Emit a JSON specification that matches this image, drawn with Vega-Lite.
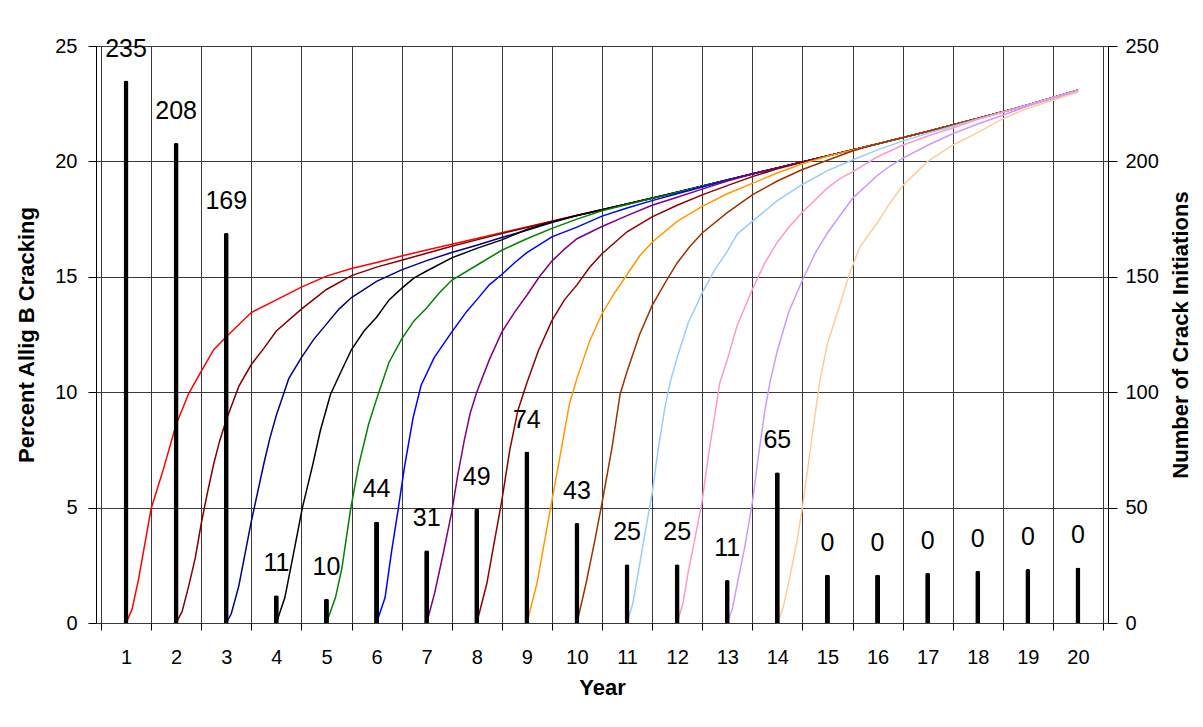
{
  "$schema": "https://vega.github.io/schema/vega-lite/v6.json",
  "width": 1012,
  "height": 577,
  "autosize": {"type": "none"},
  "padding": {"left": 96, "top": 46, "right": 95, "bottom": 104},
  "background": "white",
  "config": {
    "view": {"stroke": "black", "strokeWidth": 1},
    "font": "Liberation Sans",
    "axis": {"labelFont": "Liberation Sans", "titleFont": "Liberation Sans", "labelColor": "black", "titleColor": "black", "tickColor": "black", "domainColor": "black", "gridColor": "#3a3a3a", "gridOpacity": 1}
  },
  "datasets": {
    "curves": [
      {"curve":1,"year":1,"pct":0},{"curve":1,"year":1.12,"pct":0.6},{"curve":1,"year":1.25,"pct":1.9},{"curve":1,"year":1.5,"pct":4.95},{"curve":1,"year":1.75,"pct":6.7},{"curve":1,"year":2,"pct":8.6},{"curve":1,"year":2.25,"pct":9.94},{"curve":1,"year":2.5,"pct":10.9},{"curve":1,"year":2.75,"pct":11.84},{"curve":1,"year":3,"pct":12.4},{"curve":1,"year":3.5,"pct":13.45},{"curve":1,"year":4,"pct":14.0},{"curve":1,"year":4.5,"pct":14.55},{"curve":1,"year":5,"pct":15.03},{"curve":1,"year":5.5,"pct":15.36},{"curve":1,"year":6,"pct":15.62},{"curve":1,"year":6.5,"pct":15.9},{"curve":1,"year":7,"pct":16.16},{"curve":1,"year":8,"pct":16.66},{"curve":1,"year":9,"pct":17.16},{"curve":1,"year":10,"pct":17.67},{"curve":1,"year":11,"pct":18.15},{"curve":1,"year":12,"pct":18.66},{"curve":1,"year":13,"pct":19.2},{"curve":1,"year":14,"pct":19.72},{"curve":1,"year":15,"pct":20.24},{"curve":1,"year":16,"pct":20.76},{"curve":1,"year":17,"pct":21.3},{"curve":1,"year":18,"pct":21.86},{"curve":1,"year":19,"pct":22.44},{"curve":1,"year":20,"pct":23.08},
      {"curve":2,"year":2,"pct":0},{"curve":2,"year":2.12,"pct":0.5},{"curve":2,"year":2.25,"pct":1.6},{"curve":2,"year":2.38,"pct":2.8},{"curve":2,"year":2.5,"pct":4.3},{"curve":2,"year":2.62,"pct":5.6},{"curve":2,"year":2.75,"pct":6.9},{"curve":2,"year":2.87,"pct":7.9},{"curve":2,"year":3,"pct":8.8},{"curve":2,"year":3.25,"pct":10.25},{"curve":2,"year":3.5,"pct":11.2},{"curve":2,"year":3.75,"pct":11.9},{"curve":2,"year":4,"pct":12.65},{"curve":2,"year":4.5,"pct":13.6},{"curve":2,"year":5,"pct":14.45},{"curve":2,"year":5.5,"pct":15.05},{"curve":2,"year":6,"pct":15.42},{"curve":2,"year":6.5,"pct":15.72},{"curve":2,"year":7,"pct":16.02},{"curve":2,"year":7.5,"pct":16.32},{"curve":2,"year":8,"pct":16.6},{"curve":2,"year":9,"pct":17.14},{"curve":2,"year":10,"pct":17.66},{"curve":2,"year":11,"pct":18.15},{"curve":2,"year":12,"pct":18.66},{"curve":2,"year":13,"pct":19.2},{"curve":2,"year":14,"pct":19.72},{"curve":2,"year":15,"pct":20.24},{"curve":2,"year":16,"pct":20.76},{"curve":2,"year":17,"pct":21.3},{"curve":2,"year":18,"pct":21.86},{"curve":2,"year":19,"pct":22.44},{"curve":2,"year":20,"pct":23.08},
      {"curve":3,"year":3,"pct":0},{"curve":3,"year":3.1,"pct":0.4},{"curve":3,"year":3.25,"pct":1.6},{"curve":3,"year":3.5,"pct":4.4},{"curve":3,"year":3.75,"pct":6.9},{"curve":3,"year":3.87,"pct":8.0},{"curve":3,"year":4,"pct":9.0},{"curve":3,"year":4.25,"pct":10.6},{"curve":3,"year":4.5,"pct":11.5},{"curve":3,"year":4.75,"pct":12.3},{"curve":3,"year":5,"pct":12.95},{"curve":3,"year":5.25,"pct":13.6},{"curve":3,"year":5.5,"pct":14.1},{"curve":3,"year":6,"pct":14.8},{"curve":3,"year":6.5,"pct":15.3},{"curve":3,"year":7,"pct":15.7},{"curve":3,"year":7.5,"pct":16.05},{"curve":3,"year":8,"pct":16.37},{"curve":3,"year":8.5,"pct":16.7},{"curve":3,"year":9,"pct":17.02},{"curve":3,"year":9.5,"pct":17.35},{"curve":3,"year":10,"pct":17.65},{"curve":3,"year":11,"pct":18.15},{"curve":3,"year":12,"pct":18.66},{"curve":3,"year":13,"pct":19.2},{"curve":3,"year":14,"pct":19.72},{"curve":3,"year":15,"pct":20.24},{"curve":3,"year":16,"pct":20.76},{"curve":3,"year":17,"pct":21.3},{"curve":3,"year":18,"pct":21.86},{"curve":3,"year":19,"pct":22.44},{"curve":3,"year":20,"pct":23.08},
      {"curve":4,"year":4,"pct":0},{"curve":4,"year":4.17,"pct":1.1},{"curve":4,"year":4.36,"pct":3.2},{"curve":4,"year":4.52,"pct":5.0},{"curve":4,"year":4.72,"pct":6.8},{"curve":4,"year":4.88,"pct":8.35},{"curve":4,"year":5.08,"pct":9.9},{"curve":4,"year":5.25,"pct":10.7},{"curve":4,"year":5.5,"pct":11.85},{"curve":4,"year":5.75,"pct":12.65},{"curve":4,"year":6,"pct":13.25},{"curve":4,"year":6.25,"pct":14.0},{"curve":4,"year":6.5,"pct":14.5},{"curve":4,"year":6.75,"pct":14.95},{"curve":4,"year":7,"pct":15.25},{"curve":4,"year":7.5,"pct":15.82},{"curve":4,"year":8,"pct":16.23},{"curve":4,"year":8.5,"pct":16.6},{"curve":4,"year":9,"pct":17.05},{"curve":4,"year":9.5,"pct":17.38},{"curve":4,"year":10,"pct":17.66},{"curve":4,"year":11,"pct":18.15},{"curve":4,"year":12,"pct":18.66},{"curve":4,"year":13,"pct":19.2},{"curve":4,"year":14,"pct":19.72},{"curve":4,"year":15,"pct":20.24},{"curve":4,"year":16,"pct":20.76},{"curve":4,"year":17,"pct":21.3},{"curve":4,"year":18,"pct":21.86},{"curve":4,"year":19,"pct":22.44},{"curve":4,"year":20,"pct":23.08},
      {"curve":5,"year":5,"pct":0},{"curve":5,"year":5.18,"pct":1.1},{"curve":5,"year":5.31,"pct":2.4},{"curve":5,"year":5.48,"pct":4.9},{"curve":5,"year":5.64,"pct":6.8},{"curve":5,"year":5.84,"pct":8.6},{"curve":5,"year":6,"pct":9.7},{"curve":5,"year":6.25,"pct":11.3},{"curve":5,"year":6.5,"pct":12.3},{"curve":5,"year":6.75,"pct":13.1},{"curve":5,"year":7,"pct":13.65},{"curve":5,"year":7.25,"pct":14.3},{"curve":5,"year":7.5,"pct":14.85},{"curve":5,"year":8,"pct":15.5},{"curve":5,"year":8.5,"pct":16.15},{"curve":5,"year":9,"pct":16.65},{"curve":5,"year":9.5,"pct":17.1},{"curve":5,"year":10,"pct":17.5},{"curve":5,"year":10.5,"pct":17.86},{"curve":5,"year":11,"pct":18.13},{"curve":5,"year":12,"pct":18.66},{"curve":5,"year":13,"pct":19.2},{"curve":5,"year":14,"pct":19.72},{"curve":5,"year":15,"pct":20.24},{"curve":5,"year":16,"pct":20.76},{"curve":5,"year":17,"pct":21.3},{"curve":5,"year":18,"pct":21.86},{"curve":5,"year":19,"pct":22.44},{"curve":5,"year":20,"pct":23.08},
      {"curve":6,"year":6,"pct":0},{"curve":6,"year":6.17,"pct":1.1},{"curve":6,"year":6.3,"pct":3.1},{"curve":6,"year":6.43,"pct":4.9},{"curve":6,"year":6.56,"pct":6.8},{"curve":6,"year":6.73,"pct":8.9},{"curve":6,"year":6.89,"pct":10.3},{"curve":6,"year":7.15,"pct":11.5},{"curve":6,"year":7.5,"pct":12.6},{"curve":6,"year":7.8,"pct":13.5},{"curve":6,"year":8,"pct":14.0},{"curve":6,"year":8.25,"pct":14.65},{"curve":6,"year":8.5,"pct":15.1},{"curve":6,"year":8.75,"pct":15.6},{"curve":6,"year":9,"pct":16.05},{"curve":6,"year":9.5,"pct":16.73},{"curve":6,"year":10,"pct":17.15},{"curve":6,"year":10.5,"pct":17.63},{"curve":6,"year":11,"pct":17.98},{"curve":6,"year":11.5,"pct":18.3},{"curve":6,"year":12,"pct":18.6},{"curve":6,"year":13,"pct":19.18},{"curve":6,"year":14,"pct":19.72},{"curve":6,"year":15,"pct":20.24},{"curve":6,"year":16,"pct":20.76},{"curve":6,"year":17,"pct":21.3},{"curve":6,"year":18,"pct":21.86},{"curve":6,"year":19,"pct":22.44},{"curve":6,"year":20,"pct":23.08},
      {"curve":7,"year":7,"pct":0},{"curve":7,"year":7.16,"pct":1.3},{"curve":7,"year":7.33,"pct":3.0},{"curve":7,"year":7.5,"pct":4.8},{"curve":7,"year":7.62,"pct":6.4},{"curve":7,"year":7.75,"pct":7.9},{"curve":7,"year":7.87,"pct":9.1},{"curve":7,"year":8,"pct":10.0},{"curve":7,"year":8.25,"pct":11.4},{"curve":7,"year":8.5,"pct":12.6},{"curve":7,"year":8.75,"pct":13.45},{"curve":7,"year":9,"pct":14.2},{"curve":7,"year":9.25,"pct":15.0},{"curve":7,"year":9.5,"pct":15.68},{"curve":7,"year":9.75,"pct":16.2},{"curve":7,"year":10,"pct":16.65},{"curve":7,"year":10.5,"pct":17.18},{"curve":7,"year":11,"pct":17.65},{"curve":7,"year":11.5,"pct":18.1},{"curve":7,"year":12,"pct":18.45},{"curve":7,"year":12.5,"pct":18.8},{"curve":7,"year":13,"pct":19.15},{"curve":7,"year":13.5,"pct":19.45},{"curve":7,"year":14,"pct":19.72},{"curve":7,"year":15,"pct":20.24},{"curve":7,"year":16,"pct":20.76},{"curve":7,"year":17,"pct":21.3},{"curve":7,"year":18,"pct":21.86},{"curve":7,"year":19,"pct":22.44},{"curve":7,"year":20,"pct":23.08},
      {"curve":8,"year":8,"pct":0},{"curve":8,"year":8.2,"pct":1.7},{"curve":8,"year":8.35,"pct":3.5},{"curve":8,"year":8.5,"pct":5.3},{"curve":8,"year":8.66,"pct":7.5},{"curve":8,"year":8.82,"pct":9.2},{"curve":8,"year":9,"pct":10.4},{"curve":8,"year":9.23,"pct":11.8},{"curve":8,"year":9.5,"pct":13.1},{"curve":8,"year":9.75,"pct":14.0},{"curve":8,"year":10,"pct":14.65},{"curve":8,"year":10.25,"pct":15.4},{"curve":8,"year":10.5,"pct":16.0},{"curve":8,"year":11,"pct":16.95},{"curve":8,"year":11.5,"pct":17.6},{"curve":8,"year":12,"pct":18.1},{"curve":8,"year":12.5,"pct":18.55},{"curve":8,"year":13,"pct":18.95},{"curve":8,"year":13.5,"pct":19.34},{"curve":8,"year":14,"pct":19.68},{"curve":8,"year":15,"pct":20.24},{"curve":8,"year":16,"pct":20.76},{"curve":8,"year":17,"pct":21.3},{"curve":8,"year":18,"pct":21.86},{"curve":8,"year":19,"pct":22.44},{"curve":8,"year":20,"pct":23.08},
      {"curve":9,"year":9,"pct":0},{"curve":9,"year":9.2,"pct":1.7},{"curve":9,"year":9.35,"pct":3.5},{"curve":9,"year":9.5,"pct":5.3},{"curve":9,"year":9.66,"pct":7.2},{"curve":9,"year":9.85,"pct":9.5},{"curve":9,"year":10,"pct":10.6},{"curve":9,"year":10.25,"pct":12.2},{"curve":9,"year":10.5,"pct":13.4},{"curve":9,"year":10.75,"pct":14.3},{"curve":9,"year":11,"pct":15.1},{"curve":9,"year":11.25,"pct":15.9},{"curve":9,"year":11.5,"pct":16.5},{"curve":9,"year":12,"pct":17.4},{"curve":9,"year":12.5,"pct":18.05},{"curve":9,"year":13,"pct":18.6},{"curve":9,"year":13.5,"pct":19.05},{"curve":9,"year":14,"pct":19.5},{"curve":9,"year":14.5,"pct":19.9},{"curve":9,"year":15,"pct":20.22},{"curve":9,"year":16,"pct":20.76},{"curve":9,"year":17,"pct":21.3},{"curve":9,"year":18,"pct":21.86},{"curve":9,"year":19,"pct":22.44},{"curve":9,"year":20,"pct":23.08},
      {"curve":10,"year":10,"pct":0},{"curve":10,"year":10.18,"pct":1.7},{"curve":10,"year":10.35,"pct":3.5},{"curve":10,"year":10.5,"pct":5.2},{"curve":10,"year":10.7,"pct":7.6},{"curve":10,"year":10.86,"pct":9.9},{"curve":10,"year":11,"pct":10.9},{"curve":10,"year":11.25,"pct":12.5},{"curve":10,"year":11.5,"pct":13.75},{"curve":10,"year":11.75,"pct":14.7},{"curve":10,"year":12,"pct":15.6},{"curve":10,"year":12.25,"pct":16.3},{"curve":10,"year":12.5,"pct":16.9},{"curve":10,"year":13,"pct":17.78},{"curve":10,"year":13.5,"pct":18.55},{"curve":10,"year":14,"pct":19.15},{"curve":10,"year":14.5,"pct":19.65},{"curve":10,"year":15,"pct":20.05},{"curve":10,"year":15.5,"pct":20.45},{"curve":10,"year":16,"pct":20.76},{"curve":10,"year":17,"pct":21.3},{"curve":10,"year":18,"pct":21.86},{"curve":10,"year":19,"pct":22.44},{"curve":10,"year":20,"pct":23.08},
      {"curve":11,"year":11,"pct":0},{"curve":11,"year":11.12,"pct":0.9},{"curve":11,"year":11.24,"pct":2.4},{"curve":11,"year":11.35,"pct":3.8},{"curve":11,"year":11.5,"pct":5.6},{"curve":11,"year":11.62,"pct":7.5},{"curve":11,"year":11.76,"pct":9.4},{"curve":11,"year":11.87,"pct":10.5},{"curve":11,"year":12,"pct":11.5},{"curve":11,"year":12.22,"pct":13.0},{"curve":11,"year":12.5,"pct":14.3},{"curve":11,"year":12.75,"pct":15.3},{"curve":11,"year":13,"pct":16.1},{"curve":11,"year":13.2,"pct":16.85},{"curve":11,"year":13.5,"pct":17.4},{"curve":11,"year":14,"pct":18.3},{"curve":11,"year":14.5,"pct":19.0},{"curve":11,"year":15,"pct":19.6},{"curve":11,"year":15.5,"pct":20.06},{"curve":11,"year":16,"pct":20.5},{"curve":11,"year":16.5,"pct":20.88},{"curve":11,"year":17,"pct":21.22},{"curve":11,"year":17.5,"pct":21.52},{"curve":11,"year":18,"pct":21.84},{"curve":11,"year":19,"pct":22.44},{"curve":11,"year":20,"pct":23.08},
      {"curve":12,"year":12,"pct":0},{"curve":12,"year":12.12,"pct":0.9},{"curve":12,"year":12.22,"pct":2.2},{"curve":12,"year":12.35,"pct":3.6},{"curve":12,"year":12.5,"pct":5.3},{"curve":12,"year":12.62,"pct":7.2},{"curve":12,"year":12.75,"pct":9.0},{"curve":12,"year":12.85,"pct":10.4},{"curve":12,"year":13,"pct":11.4},{"curve":12,"year":13.2,"pct":12.9},{"curve":12,"year":13.5,"pct":14.45},{"curve":12,"year":13.75,"pct":15.6},{"curve":12,"year":14,"pct":16.5},{"curve":12,"year":14.25,"pct":17.2},{"curve":12,"year":14.5,"pct":17.8},{"curve":12,"year":15,"pct":18.85},{"curve":12,"year":15.25,"pct":19.25},{"curve":12,"year":15.5,"pct":19.55},{"curve":12,"year":16,"pct":20.2},{"curve":12,"year":16.5,"pct":20.7},{"curve":12,"year":17,"pct":21.1},{"curve":12,"year":17.5,"pct":21.45},{"curve":12,"year":18,"pct":21.82},{"curve":12,"year":18.5,"pct":22.13},{"curve":12,"year":19,"pct":22.44},{"curve":12,"year":20,"pct":23.08},
      {"curve":13,"year":13,"pct":0},{"curve":13,"year":13.1,"pct":0.6},{"curve":13,"year":13.2,"pct":1.7},{"curve":13,"year":13.35,"pct":3.3},{"curve":13,"year":13.5,"pct":5.2},{"curve":13,"year":13.62,"pct":7.2},{"curve":13,"year":13.75,"pct":9.2},{"curve":13,"year":13.86,"pct":10.5},{"curve":13,"year":14,"pct":11.8},{"curve":13,"year":14.23,"pct":13.5},{"curve":13,"year":14.5,"pct":14.85},{"curve":13,"year":14.75,"pct":16.0},{"curve":13,"year":15,"pct":16.9},{"curve":13,"year":15.5,"pct":18.4},{"curve":13,"year":16,"pct":19.4},{"curve":13,"year":16.25,"pct":19.8},{"curve":13,"year":16.5,"pct":20.13},{"curve":13,"year":17,"pct":20.7},{"curve":13,"year":17.5,"pct":21.2},{"curve":13,"year":18,"pct":21.62},{"curve":13,"year":18.5,"pct":22.0},{"curve":13,"year":19,"pct":22.4},{"curve":13,"year":19.5,"pct":22.72},{"curve":13,"year":20,"pct":23.05},
      {"curve":14,"year":14,"pct":0},{"curve":14,"year":14.12,"pct":0.7},{"curve":14,"year":14.25,"pct":2.0},{"curve":14,"year":14.38,"pct":3.4},{"curve":14,"year":14.5,"pct":5.0},{"curve":14,"year":14.62,"pct":6.9},{"curve":14,"year":14.75,"pct":9.0},{"curve":14,"year":14.85,"pct":10.5},{"curve":14,"year":15,"pct":12.1},{"curve":14,"year":15.25,"pct":13.8},{"curve":14,"year":15.45,"pct":15.2},{"curve":14,"year":15.65,"pct":16.3},{"curve":14,"year":16,"pct":17.35},{"curve":14,"year":16.25,"pct":18.2},{"curve":14,"year":16.5,"pct":18.95},{"curve":14,"year":17,"pct":20.0},{"curve":14,"year":17.5,"pct":20.7},{"curve":14,"year":18,"pct":21.25},{"curve":14,"year":18.5,"pct":21.85},{"curve":14,"year":19,"pct":22.3},{"curve":14,"year":19.5,"pct":22.65},{"curve":14,"year":20,"pct":23.0}
    ],
    "bars": [
      {"year":1,"bar":235,"label":"235"},{"year":2,"bar":208,"label":"208"},{"year":3,"bar":169,"label":"169"},{"year":4,"bar":12,"label":"11"},{"year":5,"bar":10.5,"label":"10"},{"year":6,"bar":44,"label":"44"},{"year":7,"bar":31.5,"label":"31"},{"year":8,"bar":49.5,"label":"49"},{"year":9,"bar":74.3,"label":"74"},{"year":10,"bar":43.3,"label":"43"},{"year":11,"bar":25.5,"label":"25"},{"year":12,"bar":25.5,"label":"25"},{"year":13,"bar":18.6,"label":"11"},{"year":14,"bar":65.3,"label":"65"},{"year":15,"bar":21,"label":"0"},{"year":16,"bar":21,"label":"0"},{"year":17,"bar":21.7,"label":"0"},{"year":18,"bar":22.6,"label":"0"},{"year":19,"bar":23.4,"label":"0"},{"year":20,"bar":24.1,"label":"0"}
    ]
  },
  "layer": [
    {
      "data": {"name": "curves"},
      "mark": {"type": "line", "strokeWidth": 1.5},
      "encoding": {
        "x": {"field": "year", "type": "quantitative", "scale": {"domain": [0.5, 20.5], "nice": false, "zero": false},
              "axis": {"orient": "bottom", "values": [0.5,1.5,2.5,3.5,4.5,5.5,6.5,7.5,8.5,9.5,10.5,11.5,12.5,13.5,14.5,15.5,16.5,17.5,18.5,19.5,20.5], "grid": true, "ticks": true, "tickSize": 7, "labels": false, "domain": false, "title": null}},
        "y": {"field": "pct", "type": "quantitative", "scale": {"domain": [0, 25], "nice": false, "zero": true},
              "axis": {"orient": "left", "values": [0,5,10,15,20,25], "grid": true, "ticks": true, "tickSize": 8, "domain": false, "labelFontSize": 20, "labelPadding": 11, "title": "Percent Allig B Cracking", "titleFontSize": 22, "titleFontWeight": "bold", "titlePadding": 16}},
        "color": {"field": "curve", "type": "nominal", "legend": null,
                  "scale": {"domain": [1,2,3,4,5,6,7,8,9,10,11,12,13,14], "range": ["#FF0000","#800000","#000080","#000000","#008000","#0000FF","#800080","#8B0000","#FF9900","#993300","#99CCFF","#FF99CC","#CC99FF","#FFCC99"]}}
      }
    },
    {
      "data": {"name": "bars"},
      "layer": [
        {
          "mark": {"type": "bar", "orient": "vertical", "size": 5, "color": "black", "cornerRadiusTopLeft": 2, "cornerRadiusTopRight": 2},
          "encoding": {
            "x": {"field": "year", "type": "quantitative", "scale": {"domain": [0.5, 20.5], "nice": false, "zero": false},
                  "axis": {"orient": "bottom", "values": [1,2,3,4,5,6,7,8,9,10,11,12,13,14,15,16,17,18,19,20], "grid": false, "ticks": false, "tickSize": 0, "domain": false, "labelFontSize": 20, "labelPadding": 24, "title": "Year", "titleFontSize": 22, "titleFontWeight": "bold", "titlePadding": 10}},
            "y": {"field": "bar", "type": "quantitative", "scale": {"domain": [0, 250], "nice": false},
                  "axis": {"orient": "right", "values": [0,50,100,150,200,250], "grid": false, "ticks": true, "tickSize": 9, "domain": false, "labelFontSize": 20, "labelPadding": 8, "title": "Number of Crack Initiations", "titleFontSize": 22, "titleFontWeight": "bold", "titleAngle": 270, "titleBaseline": "top", "titlePadding": 12}}
          }
        },
        {
          "mark": {"type": "text", "fontSize": 25, "baseline": "alphabetic", "dy": -24, "color": "black", "font": "Liberation Sans"},
          "encoding": {
            "x": {"field": "year", "type": "quantitative"},
            "y": {"field": "bar", "type": "quantitative"},
            "text": {"field": "label"}
          }
        }
      ]
    }
  ],
  "resolve": {"scale": {"y": "independent"}, "axis": {"x": "independent"}}
}
